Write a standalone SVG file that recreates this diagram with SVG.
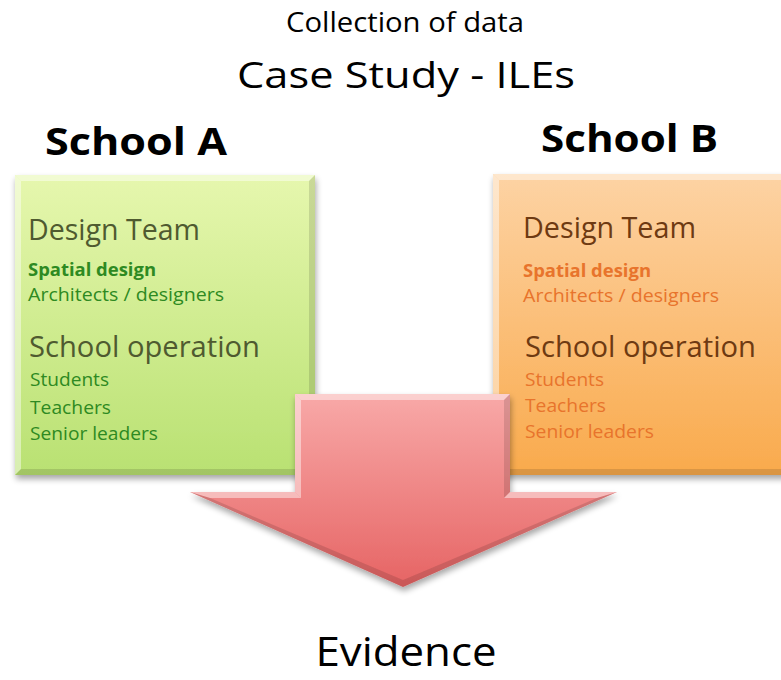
<svg xmlns="http://www.w3.org/2000/svg" width="781" height="680" viewBox="0 0 781 680">
<defs>
<linearGradient id="gG" x1="0" y1="0" x2="0" y2="1"><stop offset="0" stop-color="#e6f7ae"/><stop offset="1" stop-color="#b9e172"/></linearGradient>
<linearGradient id="gO" x1="0" y1="0" x2="0" y2="1"><stop offset="0" stop-color="#fdd3a4"/><stop offset="1" stop-color="#f9aa4c"/></linearGradient>
<linearGradient id="gR" x1="0" y1="0" x2="0" y2="1"><stop offset="0" stop-color="#f8a9a8"/><stop offset="1" stop-color="#e66464"/></linearGradient>
<filter id="sh" x="-10%" y="-10%" width="130%" height="130%"><feGaussianBlur in="SourceAlpha" stdDeviation="3"/><feOffset dx="1" dy="4"/><feComponentTransfer><feFuncA type="linear" slope="0.35"/></feComponentTransfer><feMerge><feMergeNode/><feMergeNode in="SourceGraphic"/></feMerge></filter>
</defs>
<style>
text{font-family:"Open Sans","Liberation Sans",sans-serif}
.t{fill:#000}
.hg{fill:#4f5a30;font-size:29px}
.ig{fill:#2e8a22;font-size:18px}
.ho{fill:#6e3a12;font-size:29px}
.io{fill:#e8742c;font-size:18px}
.b{font-weight:bold}
.hi{fill:#fff;opacity:0.45}
.lo{fill:#000;opacity:0.12}
</style>

<g id="titles">
<text class="t" x="405" y="32" font-size="27" text-anchor="middle" textLength="238" lengthAdjust="spacingAndGlyphs">Collection of data</text>
<text class="t" x="406" y="88" font-size="36" text-anchor="middle" textLength="338" lengthAdjust="spacingAndGlyphs">Case Study - ILEs</text>
</g>

<g id="schoolA">
<text class="t b" x="45" y="155" font-size="38" textLength="182" lengthAdjust="spacingAndGlyphs">School A</text>
<g filter="url(#sh)">
<rect x="15" y="175" width="300" height="300" fill="url(#gG)"/>
<polygon class="hi" points="15,175 315,175 309,181 21,181"/>
<polygon class="hi" points="15,175 21,181 21,469 15,475" opacity="0.3"/>
<polygon class="lo" points="315,175 315,475 309,469 309,181"/>
<polygon class="lo" points="15,475 315,475 309,469 21,469" opacity="0.2"/>
</g>
<text class="hg" x="28" y="240" textLength="172" lengthAdjust="spacingAndGlyphs">Design Team</text>
<text class="ig b" x="28" y="276" textLength="128" lengthAdjust="spacingAndGlyphs">Spatial design</text>
<text class="ig" x="28" y="301" textLength="196" lengthAdjust="spacingAndGlyphs">Architects / designers</text>
<text class="hg" x="29" y="357" textLength="231" lengthAdjust="spacingAndGlyphs">School operation</text>
<text class="ig" x="30" y="386" textLength="79" lengthAdjust="spacingAndGlyphs">Students</text>
<text class="ig" x="30" y="414" textLength="81" lengthAdjust="spacingAndGlyphs">Teachers</text>
<text class="ig" x="30" y="440" textLength="128" lengthAdjust="spacingAndGlyphs">Senior leaders</text>
</g>

<g id="schoolB">
<text class="t b" x="541" y="152" font-size="38" textLength="177" lengthAdjust="spacingAndGlyphs">School B</text>
<g filter="url(#sh)">
<rect x="493" y="174" width="300" height="301" fill="url(#gO)"/>
<polygon class="hi" points="493,174 793,174 787,180 499,180"/>
<polygon class="hi" points="493,174 499,180 499,469 493,475" opacity="0.3"/>
<polygon class="lo" points="493,475 793,475 787,469 499,469" opacity="0.2"/>
</g>
<text class="ho" x="523" y="238" textLength="173" lengthAdjust="spacingAndGlyphs">Design Team</text>
<text class="io b" x="523" y="277" textLength="128" lengthAdjust="spacingAndGlyphs">Spatial design</text>
<text class="io" x="523" y="302" textLength="196" lengthAdjust="spacingAndGlyphs">Architects / designers</text>
<text class="ho" x="525" y="357" textLength="231" lengthAdjust="spacingAndGlyphs">School operation</text>
<text class="io" x="525" y="386" textLength="79" lengthAdjust="spacingAndGlyphs">Students</text>
<text class="io" x="525" y="412" textLength="81" lengthAdjust="spacingAndGlyphs">Teachers</text>
<text class="io" x="525" y="438" textLength="129" lengthAdjust="spacingAndGlyphs">Senior leaders</text>
</g>

<g id="connectors">
<g id="arrow" filter="url(#sh)">
<polygon points="295,394 510,394 510,492 617,492 403,587 190,492 295,492" fill="url(#gR)"/>
<polygon class="hi" points="295,394 510,394 504,400 301,400"/>
<polygon class="hi" points="295,394 301,400 301,498 295,492" opacity="0.25"/>
<polygon class="lo" points="510,394 504,400 504,498 510,492"/>
<polygon class="hi" points="190,492 295,492 301,498 210,498" opacity="0.3"/>
<polygon class="hi" points="510,492 617,492 597,498 504,498" opacity="0.3"/>
<polygon class="lo" points="190,492 210,498 403,580 403,587"/>
<polygon class="lo" points="617,492 597,498 403,580 403,587"/>
</g>
</g>

<g id="evidence">
<text class="t" x="406" y="666" font-size="40" text-anchor="middle" textLength="181" lengthAdjust="spacingAndGlyphs">Evidence</text>
</g>
</svg>
